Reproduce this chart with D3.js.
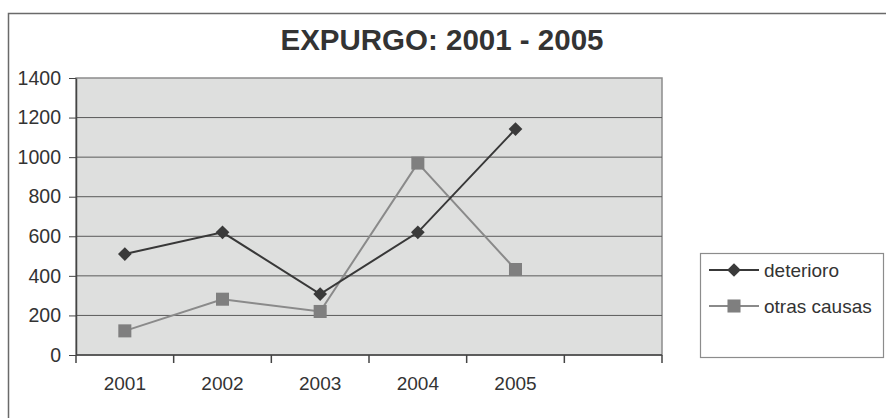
<!DOCTYPE html>
<html lang="en">
<head>
    <meta charset="UTF-8">
    <title>Expurgo 2001 - 2005</title>
    <script src="https://d3js.org/d3.v7.min.js"></script>
    <style>
        body { margin: 0; background: #fff; }
        svg { display: block; font-family: Arial, "Liberation Sans", sans-serif; }
    </style>
</head>
<body>
    <div id="chart"></div>
    <script>

// data
var years = ['2001', '2002', '2003', '2004', '2005', ''];
var deterioro = [510, 620, 308, 620, 1142];
var otrasCausas = [122, 282, 220, 970, 432];
var yTicks = [0, 200, 400, 600, 800, 1000, 1200, 1400];
var seriesNames = ['deterioro', 'otras causas'];

var width = 886, height = 418;
var margin = {top: 78, left: 76, right: 224, bottom: 63};

var svg = d3.select('#chart').append('svg')
    .attr('width', width)
    .attr('height', height);

// outer frame (top and left edges visible)
svg.append('path')
    .attr('d', 'M8.5,418 V13.5 H886')
    .attr('fill', 'none')
    .attr('stroke', '#6a6a6a')
    .attr('stroke-width', 1.5);

svg.append('text')
    .attr('x', 442)
    .attr('y', 50)
    .attr('text-anchor', 'middle')
    .style('font-size', '29.5px')
    .style('font-weight', 'bold')
    .style('fill', '#333')
    .text('EXPURGO: 2001 - 2005');

var x = d3.scaleBand()
    .domain(years.map(function(d, i) { return i; }))
    .range([margin.left, width - margin.right]);

var y = d3.scaleLinear()
    .domain([0, 1400])
    .range([height - margin.bottom, margin.top]);

var g = svg.append('g');

g.append('rect')
    .attr('x', x.range()[0])
    .attr('y', y(1400))
    .attr('width', x.range()[1] - x.range()[0])
    .attr('height', y(0) - y(1400))
    .attr('fill', '#dedfde')
    .attr('stroke', '#8c8c8c')
    .attr('stroke-width', 1.5);

// gridlines
g.selectAll('line.grid')
    .data(yTicks.filter(function(d) { return d > 0 && d < 1400; }))
    .enter().append('line')
    .attr('class', 'grid')
    .attr('x1', x.range()[0])
    .attr('x2', x.range()[1])
    .attr('y1', function(d) { return y(d); })
    .attr('y2', function(d) { return y(d); })
    .attr('stroke', '#5a5a5a')
    .attr('stroke-width', 1);

// y axis
var yAxis = d3.axisLeft(y).tickValues(yTicks).tickFormat(d3.format('d'))
    .tickSize(7).tickPadding(8).tickSizeOuter(0);
var ya = svg.append('g')
    .attr('transform', 'translate(' + x.range()[0] + ',0)')
    .call(yAxis);
ya.select('.domain').attr('stroke', '#444').attr('stroke-width', 1.5);
ya.selectAll('.tick line').attr('stroke', '#444');
ya.selectAll('.tick text')
    .style('font-size', '19.5px')
    .style('fill', '#333')
    .style('font-family', 'Arial, "Liberation Sans", sans-serif');

// x axis
var xa = svg.append('g')
    .attr('transform', 'translate(0,' + y(0) + ')');
xa.append('line')
    .attr('x1', x.range()[0])
    .attr('x2', x.range()[1])
    .attr('stroke', '#444')
    .attr('stroke-width', 1.5);
var edges = years.map(function(d, i) { return x(i); }).concat([x.range()[1]]);
xa.selectAll('line.tick')
    .data(edges)
    .enter().append('line')
    .attr('class', 'tick')
    .attr('x1', function(d) { return d; })
    .attr('x2', function(d) { return d; })
    .attr('y1', 0)
    .attr('y2', 8)
    .attr('stroke', '#444')
    .attr('stroke-width', 1.5);
xa.selectAll('text')
    .data(years)
    .enter().append('text')
    .attr('x', function(d, i) { return x(i) + x.bandwidth() / 2; })
    .attr('y', 35)
    .attr('text-anchor', 'middle')
    .style('font-size', '19px')
    .style('fill', '#333')
    .text(function(d) { return d; });

var line = d3.line()
    .x(function(d, i) { return x(i) + x.bandwidth() / 2; })
    .y(function(d) { return y(d); });

var colors = ['#383838', '#8a8a8a'];
var markerFill = ['#3a3a3a', '#7f7f7f'];

g.append('path')
    .datum(otrasCausas)
    .attr('d', line)
    .attr('fill', 'none')
    .attr('stroke', colors[1])
    .attr('stroke-width', 2);

g.append('path')
    .datum(deterioro)
    .attr('d', line)
    .attr('fill', 'none')
    .attr('stroke', colors[0])
    .attr('stroke-width', 2);

var diamond = d3.symbol().type(d3.symbolDiamond2).size(120);
var square = d3.symbol().type(d3.symbolSquare).size(170);

g.selectAll('path.sq')
    .data(otrasCausas)
    .enter().append('path')
    .attr('class', 'sq')
    .attr('d', square)
    .attr('transform', function(d, i) { return 'translate(' + (x(i) + x.bandwidth() / 2) + ',' + y(d) + ')'; })
    .attr('fill', markerFill[1]);

g.selectAll('path.dm')
    .data(deterioro)
    .enter().append('path')
    .attr('class', 'dm')
    .attr('d', diamond)
    .attr('transform', function(d, i) { return 'translate(' + (x(i) + x.bandwidth() / 2) + ',' + y(d) + ')'; })
    .attr('fill', markerFill[0]);

// legend
var lg = svg.append('g').attr('transform', 'translate(700,253)');
lg.append('rect')
    .attr('x', 0.5)
    .attr('y', 0.5)
    .attr('width', 183)
    .attr('height', 104)
    .attr('fill', '#fff')
    .attr('stroke', '#8c8c8c')
    .attr('stroke-width', 1.2);

var items = lg.selectAll('g.item')
    .data(seriesNames)
    .enter().append('g')
    .attr('class', 'item')
    .attr('transform', function(d, i) { return 'translate(0,' + (17 + i * 36) + ')'; });
items.append('line')
    .attr('x1', 9)
    .attr('x2', 59)
    .attr('stroke', function(d, i) { return colors[i]; })
    .attr('stroke-width', 2);
items.append('path')
    .attr('d', function(d, i) { return i === 0 ? diamond() : square(); })
    .attr('transform', 'translate(34,0)')
    .attr('fill', function(d, i) { return markerFill[i]; });
items.append('text')
    .attr('x', 64)
    .attr('y', 7)
    .style('font-size', '19px')
    .style('fill', '#333')
    .text(function(d) { return d; });

    </script>
</body>
</html>
